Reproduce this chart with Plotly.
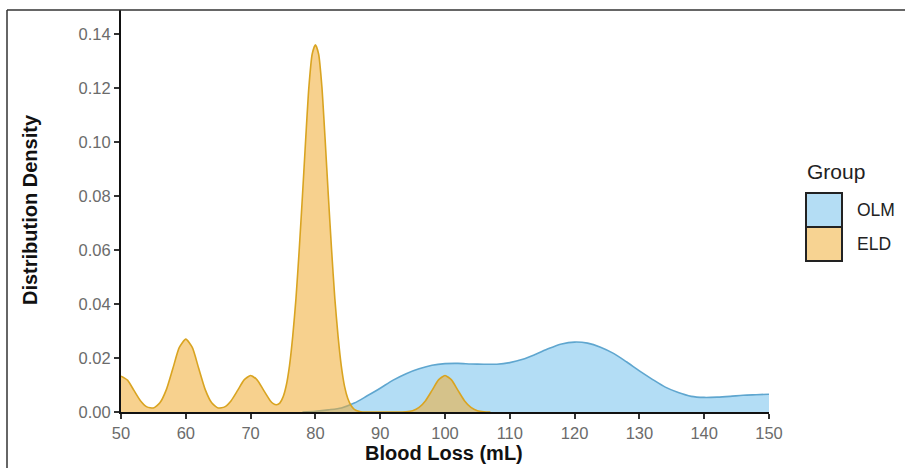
import plotly.graph_objects as go

# ---- data ----
eld_x = [50, 51, 52, 53, 54, 55, 56, 57, 58, 59, 60, 61, 62, 63, 64, 65, 66, 67, 68, 69,
         70, 71, 72, 73, 73.5, 74, 74.5, 75, 75.5, 76, 76.5, 77, 77.5, 78, 78.5, 79, 79.5,
         80, 80.5, 81, 81.5, 82, 82.5, 83, 83.5, 84, 84.5, 85, 85.5, 86, 87, 88, 90, 92,
         94, 95, 96, 97, 98, 99, 100, 101, 102, 103, 104, 105, 106, 107]
eld_y = [0.0133, 0.0118, 0.0080, 0.0042, 0.0019, 0.0015, 0.0034, 0.0083, 0.0161, 0.0239,
         0.0270, 0.0239, 0.0161, 0.0083, 0.0034, 0.0015, 0.0019, 0.0042, 0.0080, 0.0119,
         0.0135, 0.0119, 0.0081, 0.0043, 0.0031, 0.0027, 0.0033, 0.0055, 0.0098, 0.0171,
         0.0280, 0.0420, 0.0600, 0.0800, 0.1010, 0.1205, 0.1325,
         0.1360, 0.1325, 0.1205, 0.1010, 0.0800, 0.0600, 0.0420, 0.0280, 0.0170, 0.0095,
         0.0050, 0.0024, 0.0010, 0.0001, 0.0, 0.0, 0.0,
         0.0001, 0.0005, 0.0017, 0.0042, 0.0080, 0.0119, 0.0135, 0.0119, 0.0080, 0.0042,
         0.0017, 0.0005, 0.0001, 0.0]

olm_x = [78, 80, 82, 84, 86, 88, 90, 92, 94, 96, 98, 100, 102, 104, 106, 108, 110,
         112, 114, 116, 118, 120, 122, 124, 126, 128, 130, 132, 134, 136, 138, 140, 142,
         144, 146, 148, 150]
olm_y = [0.0, 0.0003, 0.0008, 0.0015, 0.0033, 0.0060, 0.0088, 0.0118, 0.0142,
         0.0160, 0.0173, 0.0179, 0.0180, 0.0178, 0.0177, 0.0177, 0.0183, 0.0195, 0.0214,
         0.0235, 0.0252, 0.0259, 0.0255, 0.0240, 0.0217, 0.0186, 0.0152, 0.0121, 0.0092,
         0.0072, 0.0058, 0.0054, 0.0055, 0.0058, 0.0062, 0.0064, 0.0066]

x_ticks = [50, 60, 70, 80, 90, 100, 110, 120, 130, 140, 150]
y_ticks = [0.00, 0.02, 0.04, 0.06, 0.08, 0.10, 0.12, 0.14]
groups = ["OLM", "ELD"]

# ---- styles ----
FONT = "Liberation Sans, Arial, sans-serif"
olm_fill = "rgba(86,180,233,0.45)"
olm_line = "#5fa6cf"
eld_fill = "rgba(240,172,50,0.55)"
eld_line = "#d9a421"
legend_fill = {"OLM": "rgb(180,221,244)", "ELD": "rgb(247,211,146)"}

fig = go.Figure()
fig.add_trace(go.Scatter(x=olm_x, y=olm_y, mode="lines", name="OLM",
                         line=dict(color=olm_line, width=1.6, shape="spline", smoothing=0.8),
                         fill="tozeroy", fillcolor=olm_fill, showlegend=False))
fig.add_trace(go.Scatter(x=eld_x, y=eld_y, mode="lines", name="ELD",
                         line=dict(color=eld_line, width=1.6, shape="spline", smoothing=0.6),
                         fill="tozeroy", fillcolor=eld_fill, showlegend=False))

W, H = 905, 468
L, R, T, B = 121, 136, 10, 56
pw, ph = W - L - R, H - T - B

def px(xp):
    return (xp - L) / pw

def py(yp):
    return (H - B - yp) / ph

fig.update_layout(
    width=W, height=H,
    margin=dict(l=L, r=R, t=T, b=B),
    paper_bgcolor="white", plot_bgcolor="white",
    font=dict(family=FONT, color="#666666"),
    showlegend=False,
)
fig.update_xaxes(range=[50, 150], tickvals=x_ticks, ticktext=[str(v) for v in x_ticks],
                 showgrid=False, zeroline=False, showline=True, linecolor="#111111",
                 linewidth=2, ticks="outside", ticklen=5, tickwidth=1.5, tickcolor="#333333",
                 tickfont=dict(size=16.5, color="#6b6b6b", family=FONT))
fig.update_yaxes(range=[0, 0.1489], tickvals=y_ticks, ticktext=[f"{v:.2f}" for v in y_ticks],
                 showgrid=False, zeroline=False, showline=True, linecolor="#111111",
                 linewidth=2, ticks="outside", ticklen=5, tickwidth=1.5, tickcolor="#333333",
                 tickfont=dict(size=16.5, color="#6b6b6b", family=FONT))

ann = []
ann.append(dict(text="<b>Blood Loss (mL)</b>", x=px(444), y=py(453), xref="paper", yref="paper",
                xanchor="center", yanchor="middle", showarrow=False,
                font=dict(size=20, color="#111111", family=FONT)))
ann.append(dict(text="<b>Distribution Density</b>", x=px(30), y=py(209), xref="paper", yref="paper",
                xanchor="center", yanchor="middle", showarrow=False, textangle=-90,
                font=dict(size=20, color="#111111", family=FONT)))
ann.append(dict(text="Group", x=px(805), y=py(171), xref="paper", yref="paper",
                xanchor="left", yanchor="middle", showarrow=False,
                font=dict(size=21, color="#222222", family=FONT)))

shapes = []
box_top = [193, 227]
for i, g in enumerate(groups):
    y0 = box_top[i]
    shapes.append(dict(type="rect", xref="paper", yref="paper",
                       x0=px(806), x1=px(842), y0=py(y0 + 34), y1=py(y0),
                       fillcolor=legend_fill[g], line=dict(color="#222222", width=2)))
    ann.append(dict(text=g, x=px(855), y=py(y0 + 17), xref="paper", yref="paper",
                    xanchor="left", yanchor="middle", showarrow=False,
                    font=dict(size=17.5, color="#222222", family=FONT)))

# outer frame (top and left edges)
shapes.append(dict(type="line", xref="paper", yref="paper", x0=px(7), x1=px(905),
                   y0=py(10), y1=py(10), line=dict(color="#333333", width=1.5)))
shapes.append(dict(type="line", xref="paper", yref="paper", x0=px(7), x1=px(7),
                   y0=py(10), y1=py(468), line=dict(color="#333333", width=1.5)))

fig.update_layout(annotations=ann, shapes=shapes)
fig.write_html("out.html", config={"displayModeBar": False},
               post_script="document.body.style.margin='0px';document.body.style.padding='0px';")
